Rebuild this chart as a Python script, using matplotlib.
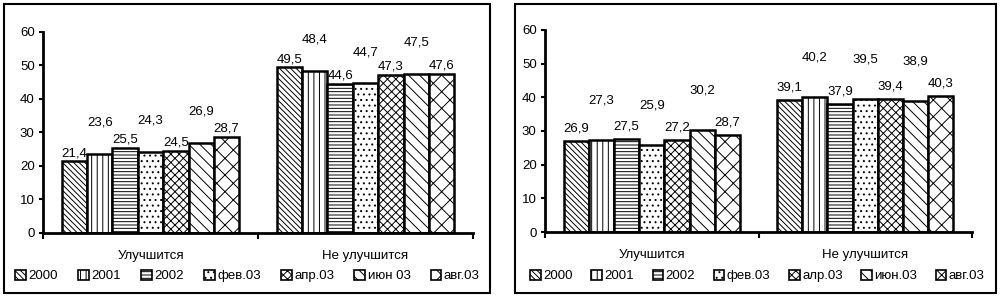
import numpy as np
import matplotlib
matplotlib.use('Agg')
from matplotlib import pyplot as plt
from matplotlib.patches import Rectangle, Patch

plt.rcParams['font.family'] = ['Liberation Sans', 'DejaVu Sans']
plt.rcParams['hatch.linewidth'] = 0.7

# --- dati ---
categories = ['Улучшится', 'Не улучшится']
left_labels = ['2000', '2001', '2002', 'фев.03', 'апр.03', 'июн 03', 'авг.03']
right_labels = ['2000', '2001', '2002', 'фев.03', 'алр.03', 'июн.03', 'авг.03']

left_values = [
    [21.4, 49.5],
    [23.6, 48.4],
    [25.5, 44.6],
    [24.3, 44.7],
    [24.5, 47.3],
    [26.9, 47.5],
    [28.7, 47.6],
]
right_values = [
    [26.9, 39.1],
    [27.3, 40.2],
    [27.5, 37.9],
    [25.9, 39.5],
    [27.2, 39.4],
    [30.2, 38.9],
    [28.7, 40.3],
]

hatches = ['\\\\\\\\\\\\', '|||', '-----', '...', 'xxxx', '\\\\\\', 'xx']

fig = plt.figure(figsize=(10, 2.99), dpi=100)

# cornici dei due pannelli
for x0, x1 in [(0.004, 0.49), (0.515, 0.996)]:
    fig.patches.append(Rectangle((x0, 0.02), x1 - x0, 0.965, transform=fig.transFigure,
                                 fill=False, edgecolor='black', linewidth=1.5))


def draw_panel(rect, values, labels, off_even, off_odd, leg_box):
    ax = fig.add_axes(rect)
    x = np.arange(len(categories))
    width = 0.118
    n = len(values)
    for i, vals in enumerate(values):
        pos = x - width * (n - 1) / 2 + i * width
        ax.bar(pos, vals, width, color='white', edgecolor='black', hatch=hatches[i],
               linewidth=1.8, label=labels[i])
        off = off_even if i % 2 == 0 else off_odd
        for p, v in zip(pos, vals):
            ax.annotate(f'{v:.1f}'.replace('.', ','), (p, v), xytext=(0, off),
                        textcoords='offset points', ha='center', va='bottom', fontsize=9.5)
    ax.set_ylim(0, 60)
    ax.set_xlim(-0.5, 1.5)
    ax.set_yticks(range(0, 61, 10))
    ax.set_xticks([-0.5, 0.5, 1.5])
    ax.set_xticklabels([])
    ax.set_xticks(x, minor=True)
    ax.set_xticklabels(categories, minor=True, fontsize=9.5)
    ax.tick_params(axis='x', which='minor', length=0, pad=12)
    ax.tick_params(axis='x', which='major', length=4, width=1.5, direction='out')
    ax.tick_params(axis='y', length=3, width=1.5, labelsize=9.5, pad=3)
    for s in ['top', 'right']:
        ax.spines[s].set_visible(False)
    for s in ['left', 'bottom']:
        ax.spines[s].set_linewidth(2)
    handles = [Patch(facecolor='white', edgecolor='black', hatch=hatches[i], label=labels[i],
                     linewidth=1.2)
               for i in range(n)]
    fig.legend(handles=handles, loc='center left', bbox_to_anchor=leg_box, mode='expand',
               ncol=n, frameon=False, fontsize=9.5, handlelength=0.8, handleheight=0.8,
               handletextpad=0.2, columnspacing=1.0, borderaxespad=0)
    return ax


draw_panel([0.043, 0.221, 0.43, 0.672], left_values, left_labels, 1.5, 18,
           (0.01, 0.077, 0.475, 0.0))
draw_panel([0.545, 0.224, 0.427, 0.676], right_values, right_labels, 5, 24,
           (0.525, 0.077, 0.465, 0.0))

plt.savefig('out.png', dpi=100)
